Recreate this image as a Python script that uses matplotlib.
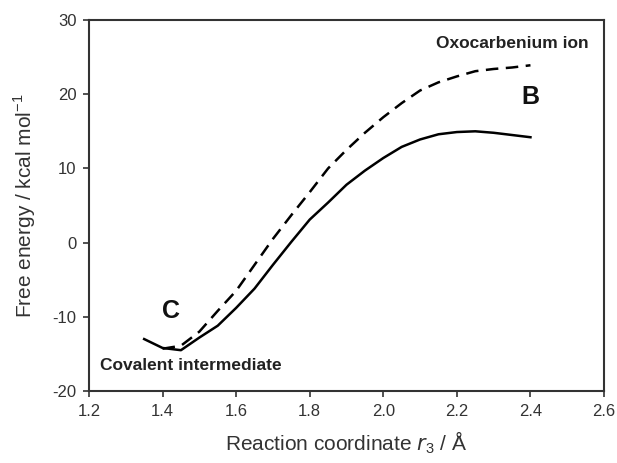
import matplotlib
matplotlib.use("Agg")
import matplotlib.pyplot as plt

plt.rcParams['font.family'] = ['Liberation Sans', 'DejaVu Sans']

solid_x = [1.35, 1.40, 1.45, 1.50, 1.55, 1.60, 1.65, 1.70, 1.75, 1.80, 1.85, 1.90,
           1.95, 2.00, 2.05, 2.10, 2.15, 2.20, 2.25, 2.30, 2.35, 2.40]
solid_y = [-13.0, -14.2, -14.5, -12.8, -11.2, -8.8, -6.2, -3.0, 0.1, 3.1, 5.4, 7.8,
           9.7, 11.4, 12.9, 13.9, 14.6, 14.9, 15.0, 14.8, 14.5, 14.2]

dash_x = [1.40, 1.45, 1.50, 1.55, 1.60, 1.65, 1.70, 1.75, 1.80, 1.85, 1.90, 1.95,
          2.00, 2.05, 2.10, 2.15, 2.20, 2.25, 2.30, 2.35, 2.40]
dash_y = [-14.3, -13.9, -12.0, -9.2, -6.5, -3.0, 0.5, 3.7, 6.8, 10.0, 12.5, 14.8,
          16.9, 18.8, 20.5, 21.6, 22.4, 23.1, 23.4, 23.6, 23.9]

x_ticks = [1.2, 1.4, 1.6, 1.8, 2.0, 2.2, 2.4, 2.6]
y_ticks = [-20, -10, 0, 10, 20, 30]

fig = plt.figure(figsize=(6.17, 4.63), dpi=100)
ax = fig.add_axes([0.1442, 0.1555, 0.979 - 0.1442, 0.9568 - 0.1555])

ax.plot(solid_x, solid_y, color='black', lw=1.8, solid_joinstyle='round')
ax.plot(dash_x, dash_y, color='black', lw=1.8, linestyle=(0, (5, 3)))

ax.set_xlim(1.2, 2.6)
ax.set_ylim(-20, 30)
ax.set_xticks(x_ticks)
ax.set_xticklabels([f"{v:.1f}" for v in x_ticks])
ax.set_yticks(y_ticks)
ax.set_yticklabels([str(v) for v in y_ticks])

for s in ax.spines.values():
    s.set_color('#333333')
    s.set_linewidth(1.5)
ax.tick_params(direction='out', length=4, width=1.2, color='#333333',
               labelsize=12, labelcolor='#333333', pad=5)

ax.set_xlabel(r"Reaction coordinate $\it{r}_\mathregular{3}$ / Å", fontsize=15, color='#333333', labelpad=8)
ax.set_ylabel(r"Free energy / kcal mol$^\mathregular{-1}$", fontsize=15, color='#333333', labelpad=10)

ax.text(2.35, 26.8, "Oxocarbenium ion", fontsize=12.5, fontweight='bold', ha='center', va='center', color='#222222')
ax.text(2.40, 19.6, "B", fontsize=18, fontweight='bold', ha='center', va='center', color='#111111')
ax.text(1.423, -9.2, "C", fontsize=18, fontweight='bold', ha='center', va='center', color='#111111')
ax.text(1.477, -16.6, "Covalent intermediate", fontsize=12.5, fontweight='bold', ha='center', va='center', color='#222222')

fig.savefig("out.png", dpi=100)
